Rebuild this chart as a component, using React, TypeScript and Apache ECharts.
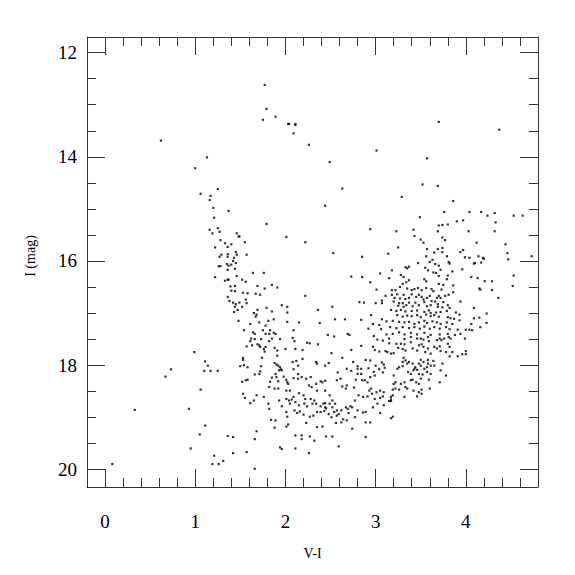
import React, { useEffect, useRef } from "react";
import * as echarts from "echarts";

// [V-I, I] pairs
const brightStars: number[][] = [
  [0.62,13.69],[1.13,14.01],[1.00,14.22],[1.77,12.62],[1.79,13.08],[1.75,13.29],[1.89,13.23],[2.03,13.37],[2.04,13.37],[2.11,13.37],[2.11,13.39],[2.09,13.55],[2.26,13.77],[2.49,14.10],[3.01,13.88],[3.70,13.33],[4.37,13.48],[3.57,14.03],[3.52,14.53],[3.69,14.56]
];

const blueBranch: number[][] = [
  [1.25,14.62],[1.06,14.71],[1.17,14.75],[1.16,14.83],[1.20,14.98],[1.37,15.04],[1.21,15.17],[1.16,15.40],[1.25,15.37],[1.27,15.44],[1.19,15.47],
  [1.28,15.60],[1.33,15.66],[1.40,15.68],[1.36,15.73],[1.22,15.74],[1.45,15.83],
  [1.29,15.88],[1.27,15.92],[1.36,15.87],[1.36,15.92],[1.43,15.94],[1.42,16.00],[1.45,16.04],[1.35,16.06],[1.37,16.09],[1.40,16.07],[1.26,16.10],[1.28,16.10],[1.36,16.17],[1.44,16.15],[1.22,16.31],[1.33,16.38],[1.36,16.36],[1.37,16.36],[1.39,16.49],[1.44,16.48],[1.40,16.57],[1.44,16.58],[1.36,16.69],[1.38,16.77],[1.42,16.80],[1.45,16.83],[1.44,16.88],[1.43,16.98]
];

const middleStars: number[][] = [
  [2.63,14.61],[2.44,14.94],[1.79,15.29],[2.94,15.39],[1.46,15.47],[1.48,15.53],[1.49,15.53],[2.01,15.54],[2.22,15.64],[1.55,15.64],[2.53,15.85],[2.85,15.92],[1.46,15.88],[1.57,15.88],
  [1.64,16.23],[1.76,16.23],[1.46,16.29],[1.52,16.36],[1.56,16.40],[2.73,16.30],[2.85,16.31],[3.05,16.24],[2.94,16.41],
  [1.69,16.48],[1.85,16.46],[1.77,16.53],[1.91,16.51],
  [1.53,16.61],[1.58,16.62],[1.67,16.63],[1.72,16.65],[2.22,16.67],
  [3.01,16.55],[3.11,16.67],[3.07,16.76],[3.07,16.81],[3.00,16.81],[2.87,16.80],[2.82,16.79],
  [1.56,16.74],[1.49,16.80],[1.57,16.81],[1.52,16.88],
  [1.96,16.85],[2.02,16.88],[1.79,16.90],[1.69,16.94],
  [1.47,16.94],[1.65,17.00],[1.68,17.03],[1.67,17.07],[1.85,16.97],
  [2.02,16.99],[2.36,16.94],[2.52,16.88],
  [1.48,17.15],[1.61,17.21],[1.71,17.18],[1.81,17.15],[1.87,17.12],[2.02,17.17],[2.15,17.18],
  [2.38,17.19],[2.55,17.12],[2.66,17.12],[2.84,17.13],[2.95,17.04],
  [2.97,17.21],[3.04,17.23],[3.07,17.12],[3.12,17.16],[3.06,17.31],[2.92,17.30],
  [1.54,17.33],[1.64,17.37],[1.66,17.40],[1.75,17.33],[1.78,17.24],[1.83,17.33],[1.87,17.38],[1.89,17.40],[1.82,17.40],[1.78,17.40],[2.09,17.33],[2.47,17.42],[2.54,17.45],[2.69,17.40],[2.71,17.42],
  [3.12,17.41],[2.98,17.44]
];

const redGiants: number[][] = [
  [3.29,14.77],[3.86,14.85],
  [3.76,15.06],[4.04,15.06],[4.17,15.06],[4.24,15.13],[4.32,15.08],[4.53,15.13],[4.63,15.13],
  [3.49,15.16],
  [4.33,15.26],[3.97,15.22],[3.90,15.24],[3.80,15.30],[3.74,15.31],[3.70,15.32],
  [3.23,15.43],[3.42,15.40],[3.69,15.43],[4.03,15.43],[4.32,15.43],
  [3.43,15.52],[3.74,15.55],[3.77,15.60],[3.50,15.59],[3.53,15.65],
  [4.12,15.65],[4.44,15.68],[3.69,15.77],[3.74,15.75],[3.57,15.77],[3.25,15.74],[3.14,15.86],
  [3.97,15.79],[3.94,15.83],[3.74,15.83],[3.65,15.84],[4.46,15.85],[4.47,15.97],
  [3.56,15.91],[3.79,15.91],[3.99,15.93],[4.04,15.94],[4.14,15.91],[4.19,15.94],[4.20,15.96],
  [3.63,15.98],[3.60,16.02],[3.81,16.02],[3.82,16.05],[4.09,16.05],[4.10,16.04],[4.17,16.03],[4.73,15.91],
  [3.47,16.04],[3.18,16.18],[3.33,16.12],[3.35,16.14],[3.37,16.11],[3.55,16.13],[3.66,16.06],[3.70,16.09],[3.96,16.16],[3.72,16.17],[3.58,16.18],
  [3.64,16.22],[3.67,16.23],[3.70,16.29],[3.80,16.28],[3.85,16.20],[4.06,16.31],[4.13,16.33],[4.53,16.28],[3.15,16.33],[3.28,16.27],[3.31,16.31],
  [3.54,16.35],[3.56,16.39],[3.37,16.37],[3.34,16.41],[3.30,16.44],[3.79,16.35],[4.21,16.39],[4.29,16.39],[4.52,16.48],[4.36,16.71],[4.15,16.53],[4.16,16.55],[4.29,16.56],
  [3.70,16.44],[3.75,16.46],[3.86,16.47],[3.56,16.52],[3.62,16.54],[3.73,16.55],[3.64,16.58],[3.86,16.60],
  [3.18,16.56],[3.22,16.56],[3.27,16.50],[3.35,16.53],[3.40,16.56],[3.43,16.54],[3.47,16.52],[3.51,16.56],
  [3.18,16.65],[3.24,16.64],[3.31,16.65],[3.40,16.64],[3.48,16.65],[3.60,16.67],[3.70,16.67],[3.77,16.67],[3.81,16.65],[3.94,16.78],[4.09,16.90],
  [3.21,16.71],[3.27,16.72],[3.33,16.73],[3.37,16.71],[3.45,16.69],[3.51,16.69],[3.53,16.74],[3.57,16.71],[3.68,16.71],[3.72,16.71],
  [3.20,16.78],[3.26,16.81],[3.30,16.81],[3.37,16.80],[3.44,16.80],[3.54,16.79],[3.62,16.77],[3.69,16.83],[3.75,16.79],[3.80,16.85],[3.66,16.78],
  [3.25,16.86],[3.31,16.88],[3.34,16.85],[3.41,16.87],[3.48,16.85],[3.57,16.87],[3.61,16.85],[3.69,16.88],[3.74,16.89],[3.82,16.90],[3.89,16.99],[3.93,17.03],[4.23,17.01],[4.09,17.10],[4.15,17.09],
  [3.17,16.94],[3.23,16.96],[3.28,16.94],[3.33,16.97],[3.40,16.96],[3.46,16.95],[3.54,16.98],[3.59,16.95],[3.61,17.00],[3.67,16.99],[3.72,16.98],[3.79,16.96],
  [3.24,17.04],[3.30,17.07],[3.35,17.05],[3.40,17.06],[3.46,17.04],[3.50,17.08],[3.56,17.03],[3.61,17.06],[3.65,17.04],[3.70,17.07],[3.80,17.08],[3.83,17.10],[3.87,17.11],[3.93,17.14],
  [3.19,17.15],[3.26,17.17],[3.32,17.18],[3.37,17.17],[3.43,17.21],[3.48,17.18],[3.54,17.15],[3.57,17.19],[3.63,17.16],[3.68,17.18],[3.72,17.21],[3.79,17.18],[3.85,17.21],
  [4.06,17.21],[4.04,17.32],[4.23,17.19],[3.16,17.27],[3.23,17.29],[3.30,17.27],[3.37,17.29],[3.43,17.27],[3.49,17.30],[3.54,17.26],[3.60,17.30],[3.65,17.27],[3.71,17.30],[3.78,17.27],[3.82,17.31],[3.91,17.32],[4.00,17.32],[4.07,17.33],[4.16,17.27],
  [3.19,17.40],[3.26,17.37],[3.32,17.41],[3.39,17.38],[3.46,17.41],[3.54,17.38],[3.61,17.42],[3.71,17.41],[3.80,17.40],[3.88,17.42],[3.94,17.40]
];

const faintLeft: number[][] = [
  [0.99,17.75],[1.11,17.93],[1.14,18.01],[1.10,18.11],[1.17,18.11],[1.25,18.11],[0.73,18.08],[0.67,18.22],[1.06,18.47],[0.33,18.86],[0.93,18.84],[1.11,19.16],[1.05,19.33],[1.36,19.36],[1.42,19.38],[0.95,19.60],[1.21,19.74],[1.42,19.69],[1.31,19.84],[1.19,19.90],[1.26,19.90],[0.08,19.90]
];

const faintMiddle: number[][] = [
  [1.62,17.49],[1.61,17.54],[1.66,17.50],[1.73,17.50],[1.82,17.54],[1.85,17.49],[1.94,17.50],[2.10,17.54],[2.08,17.48],[2.24,17.57],[2.27,17.58],[2.36,17.60],[3.08,17.53],[3.02,17.51],
  [1.63,17.62],[1.57,17.64],[1.69,17.60],[1.71,17.62],[1.72,17.65],[1.76,17.69],[1.77,17.74],[1.78,17.65],[1.88,17.67],[1.91,17.72],[2.00,17.69],[2.11,17.69],[2.19,17.71],[2.51,17.77],[2.73,17.71],[2.84,17.63],[2.97,17.65],[2.99,17.71],[3.04,17.74],[3.11,17.73],
  [1.50,18.02],[1.54,18.00],[1.53,17.86],[1.53,17.90],[1.74,17.86],[1.73,18.02],[1.72,18.12],[1.71,18.17],[1.88,17.96],[1.90,17.99],[1.92,18.01],[1.94,18.04],[1.95,18.08],[1.93,18.10],[1.96,18.10],[1.91,17.82],
  [2.08,17.94],[2.12,17.92],[2.19,17.88],[2.14,18.01],[2.09,18.08],[2.34,17.94],[2.35,17.97],[2.44,18.01],[2.48,17.96],[2.58,18.14],[2.63,17.86],[2.68,18.07],[2.73,18.11],[2.75,17.94],[2.80,18.02],[2.80,18.07],[2.89,17.90],[2.94,17.91],[2.84,18.07],[2.92,18.06],[2.98,18.13],[3.00,18.01],[3.04,18.08],[3.07,17.95],[3.09,17.99],[3.10,18.05],[3.08,18.14],
  [1.58,18.04],[1.56,18.29],[1.52,18.32],[1.58,18.28],[1.66,18.18],[1.83,18.32],[1.85,18.24],[1.89,18.17],[1.90,18.23],[1.92,18.31],[1.98,18.22],[2.01,18.28],[2.02,18.33],[2.03,18.36],[2.09,18.25],[2.14,18.17],[2.14,18.26],[2.18,18.23],
  [2.23,18.26],[2.28,18.23],[2.26,18.39],[2.29,18.42],[2.34,18.36],[2.39,18.31],[2.41,18.33],[2.44,18.30],[2.35,18.49],[2.44,18.49],[2.49,18.58],
  [2.57,18.29],[2.61,18.26],[2.63,18.41],[2.67,18.45],[2.68,18.39],[2.76,18.43],[2.78,18.28],[2.80,18.17],[2.84,18.17],[2.85,18.29],[2.88,18.29],[2.91,18.33],[2.94,18.23],[2.95,18.45],[2.99,18.20],[3.05,18.49],[3.09,18.52],[3.05,18.63],[3.08,18.60],
  [1.82,18.42],[1.88,18.45],[1.92,18.45],[2.01,18.49],[2.05,18.49],[2.09,18.61],[2.15,18.54],[2.20,18.58],[2.22,18.65],
  [1.53,18.55],[1.55,18.63],[1.61,18.73],[1.65,18.68],[1.68,18.58],[1.76,18.61],
  [1.81,18.74],[1.82,18.84],[1.93,18.68],[1.96,18.79],[2.01,18.65],[2.04,18.68],[2.05,18.74],[2.07,18.66],[2.11,18.71],[2.15,18.77],[2.16,18.89],[2.20,18.95],[2.21,18.74],[2.24,18.79],[2.28,18.65],[2.32,18.68],[2.34,18.74],[2.30,18.74],[2.39,18.79],[2.42,18.74],[2.44,18.73],[2.44,18.81],[2.45,18.83],[2.49,18.74],[2.52,18.81],[2.52,18.68],[2.55,18.74],
  [2.01,18.90],[2.02,18.99],[2.10,18.87],[2.13,18.92],[2.23,19.11],[2.27,18.99],[2.31,18.97],[2.35,18.90],[2.39,18.90],[2.43,18.88],[2.48,18.94],[2.51,19.00],[2.54,18.90],[2.57,18.87],[2.59,18.94],[2.62,18.87],[2.67,18.81],[2.69,18.84],[2.72,18.79],[2.74,18.81],[2.64,19.04],[2.57,18.97],[2.70,18.92],[2.77,19.00],[2.80,18.87],[2.86,18.91],[2.89,19.10],[2.94,19.10],[2.89,18.90],[2.97,18.81],[3.02,18.74],[3.05,18.92],[3.09,18.77],
  [1.84,19.05],[1.89,19.06],[2.03,19.14],[2.01,19.18],[1.88,19.20],[1.68,19.27],[1.66,19.42],[1.57,19.67],[1.66,19.99],
  [2.11,19.35],[2.18,19.35],[2.18,19.42],[2.27,19.37],[2.32,19.45],[2.35,19.19],[2.41,19.18],[2.45,19.37],[2.52,19.37],[2.59,19.56],[2.62,19.10],[2.68,19.06],[2.74,19.22],[2.89,19.38],[1.94,19.58],[1.96,19.61],[2.11,19.60],[2.26,19.69],[2.56,19.11],
  [2.77,18.68],[2.81,18.58],[2.86,18.61],[2.91,18.60],[2.96,18.55],[2.99,18.65],[3.01,18.52],[2.93,18.49]
];

const faintRight: number[][] = [
  [3.15,17.49],[3.32,17.50],[3.39,17.46],[3.39,17.56],[3.46,17.49],[3.50,17.49],[3.53,17.51],[3.58,17.46],[3.59,17.54],[3.68,17.52],[3.71,17.49],[3.73,17.52],[3.76,17.49],[3.81,17.46],[3.83,17.49],[3.99,17.49],
  [3.23,17.59],[3.28,17.59],[3.32,17.60],[3.15,17.58],[3.13,17.75],[3.17,17.78],[3.20,17.77],[3.25,17.67],[3.30,17.69],[3.33,17.72],[3.41,17.68],[3.46,17.72],[3.48,17.62],[3.51,17.60],[3.53,17.65],[3.55,17.75],[3.58,17.68],[3.61,17.78],[3.65,17.65],[3.68,17.68],[3.71,17.64],[3.72,17.73],[3.78,17.75],[3.80,17.59],[3.82,17.65],[3.85,17.75],[3.82,17.83],[3.91,17.83],[3.96,17.79],[4.00,17.73],[4.00,17.79],
  [3.78,18.20],[3.74,17.97],[3.72,18.10],[3.71,18.33],[3.60,18.45],
  [3.31,17.86],[3.30,17.94],[3.33,17.91],[3.35,17.97],[3.24,18.07],[3.26,18.04],[3.30,18.02],[3.37,17.94],[3.41,17.97],[3.43,18.07],[3.44,18.04],[3.48,17.97],[3.50,18.01],[3.53,17.94],[3.54,18.07],[3.57,18.04],[3.58,17.97],[3.61,18.01],[3.64,17.92],[3.65,18.01],[3.50,17.90],[3.58,17.90],
  [3.36,18.13],[3.39,18.17],[3.42,18.10],[3.46,18.09],[3.48,18.17],[3.52,18.18],[3.57,18.13],[3.61,18.17],
  [3.20,18.20],[3.22,18.33],[3.20,18.36],[3.19,18.47],[3.22,18.45],[3.26,18.47],[3.28,18.36],[3.32,18.33],[3.33,18.42],[3.39,18.29],[3.41,18.28],[3.42,18.49],[3.35,18.45],[3.45,18.33],[3.48,18.36],[3.50,18.26],[3.59,18.28],[3.51,18.47],[3.48,18.52],[3.51,18.55],[3.46,18.60],[3.32,18.61],[3.19,18.58],[3.17,18.61],[3.17,18.66],[3.15,18.69],[3.17,18.69],[3.19,18.99],[3.17,19.02]
];

const allStars = [
  ...brightStars,
  ...blueBranch,
  ...middleStars,
  ...redGiants,
  ...faintLeft,
  ...faintMiddle,
  ...faintRight,
];

const X_MIN = -0.2;
const X_MAX = 4.8;
const Y_MIN = 11.7;
const Y_MAX = 20.34;

const FONT = "Liberation Serif";

export default function App() {
  const ref = useRef<HTMLDivElement>(null);
  useEffect(() => {
    if (!ref.current) return;
    const chart = echarts.init(ref.current, undefined, { renderer: "svg" });
    const lineColor = "#333";
    const axisLine = { show: true, onZero: false, lineStyle: { color: lineColor, width: 1 } };
    const axisTick = { show: true, inside: true, length: 18, lineStyle: { color: lineColor, width: 1 } };
    const minor = (n: number) => ({ show: true, splitNumber: n, length: 9, lineStyle: { color: lineColor, width: 1 } });
    const xBase = {
      type: "value",
      min: X_MIN,
      max: X_MAX,
      minInterval: 1,
      maxInterval: 1,
      axisLine,
      axisTick,
      minorTick: minor(5),
      splitLine: { show: false },
      minorSplitLine: { show: false },
    };
    const yBase = {
      type: "value",
      inverse: true,
      min: Y_MIN,
      max: Y_MAX,
      minInterval: 2,
      maxInterval: 2,
      axisLine,
      axisTick,
      minorTick: minor(4),
      splitLine: { show: false },
      minorSplitLine: { show: false },
    };
    chart.setOption({
      animation: false,
      backgroundColor: "#fff",
      grid: { left: 87, top: 37, width: 451, height: 450, containLabel: false },
      xAxis: [
        {
          ...xBase,
          position: "bottom",
          axisLabel: {
            show: true,
            fontFamily: FONT,
            fontSize: 19,
            color: "#000",
            margin: 25,
            showMinLabel: false,
            showMaxLabel: false,
          },
          name: "V-I",
          nameLocation: "middle",
          nameGap: 59,
          nameTextStyle: { fontFamily: FONT, fontSize: 14, color: "#000" },
        },
        { ...xBase, position: "top", axisLabel: { show: false } },
      ],
      yAxis: [
        {
          ...yBase,
          position: "left",
          axisLabel: {
            show: true,
            fontFamily: FONT,
            fontSize: 19,
            color: "#000",
            margin: 10,
            showMinLabel: false,
            showMaxLabel: false,
          },
          name: "I (mag)",
          nameLocation: "middle",
          nameGap: 50,
          nameRotate: 90,
          nameTextStyle: { fontFamily: FONT, fontSize: 14, color: "#000", padding: [0, 0, 0, 12] },
        },
        { ...yBase, position: "right", axisLabel: { show: false } },
      ],
      series: [
        {
          type: "scatter",
          xAxisIndex: 0,
          yAxisIndex: 0,
          data: allStars,
          symbol: "rect",
          symbolSize: 2.2,
          itemStyle: { color: "#000" },
          silent: true,
        },
      ],
    });
    return () => chart.dispose();
  }, []);
  return (
    <div
      ref={ref}
      style={{ position: "absolute", left: 0, top: 0, width: 575, height: 575 }}
    />
  );
}
